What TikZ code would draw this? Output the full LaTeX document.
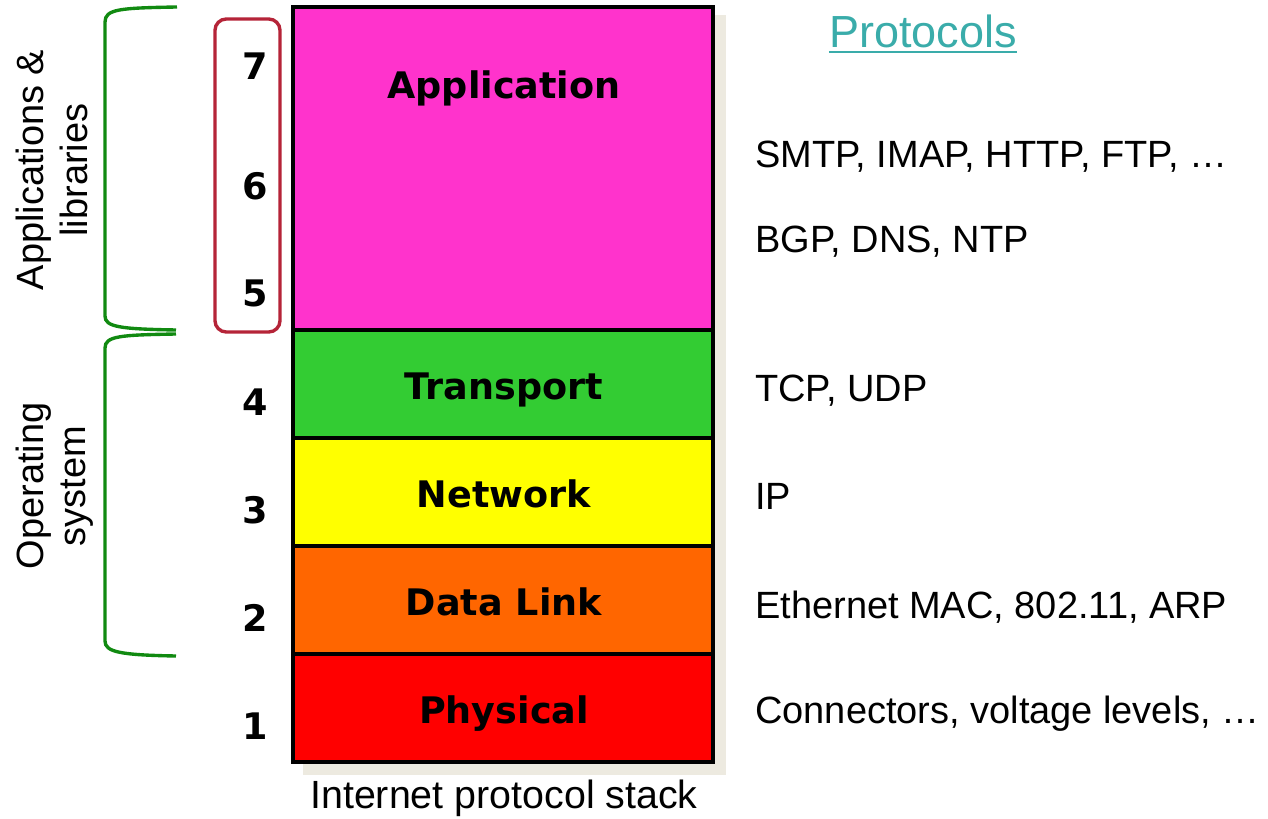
\documentclass[tikz,border=0pt]{standalone}
\usepackage{fontspec}
\setmainfont{Liberation Sans}
\newfontfamily\layerfont{DejaVu Sans}
\definecolor{appcol}{HTML}{FF33CC}
\definecolor{transcol}{HTML}{33CC33}
\definecolor{netcol}{HTML}{FFFF00}
\definecolor{linkcol}{HTML}{FF6600}
\definecolor{physcol}{HTML}{FF0000}
\definecolor{shadowcol}{HTML}{EDEAE0}
\definecolor{bracecol}{HTML}{118A11}
\definecolor{boxcol}{HTML}{B52438}
\definecolor{protocol}{HTML}{3AACAA}

\begin{document}
\begin{tikzpicture}[x=0.025cm,y=-0.025cm]
\tikzstyle{every node}+=[inner sep=0pt]
\tikzstyle{layer}=[draw=black, line width=2.8pt]
\tikzstyle{layername}=[anchor=base, font=\layerfont\bfseries\fontsize{26}{30}\selectfont]
\tikzstyle{num}=[anchor=base, font=\layerfont\bfseries\fontsize{26}{30}\selectfont]
\tikzstyle{proto}=[anchor=base west, font=\fontsize{27}{32}\selectfont]
\tikzstyle{side}=[anchor=base, rotate=90, font=\fontsize{27}{32}\selectfont]
\tikzstyle{brace}=[draw=bracecol, line width=2.4pt]
\useasboundingbox (0,0) rectangle (1268,819);
% shadow behind the stack
\fill [shadowcol] (303,15) rectangle (726,775);
% the five layers
\draw [layer, fill=appcol] (293,7) rectangle (713,330);
\draw [layer, fill=transcol] (293,330) rectangle (713,438);
\draw [layer, fill=netcol] (293,438) rectangle (713,546);
\draw [layer, fill=linkcol] (293,546) rectangle (713,654);
\draw [layer, fill=physcol] (293,654) rectangle (713,762);
\node [layername] (app) at (504,99) {Application};
\node [layername] (trans) at (504,399) {Transport};
\node [layername] (net) at (504,507) {Network};
\node [layername] (link) at (504,615) {Data Link};
\node [layername] (phys) at (504,723) {Physical};
\node [anchor=base, font=\fontsize{28}{33}\selectfont] (stack) at (504,808) {Internet protocol stack};
% layer numbers
\draw [boxcol, line width=2.4pt, rounded corners=8pt] (215,19) rectangle (280,332);
\node [num] (n7) at (255,80) {7};
\node [num] (n6) at (255,200) {6};
\node [num] (n5) at (255,307) {5};
\node [num] (n4) at (255,415) {4};
\node [num] (n3) at (255,523) {3};
\node [num] (n2) at (255,631) {2};
\node [num] (n1) at (255,739) {1};
% braces on the left
\draw [brace] (177,7) .. controls (120,8) and (105,9) .. (105,22) -- (105,316) .. controls (105,327) and (120,329) .. (176,330);
\draw [brace] (176,334) .. controls (120,335) and (105,336) .. (105,348) -- (105,641) .. controls (105,652) and (120,655) .. (176,656);
\node [side] (apps) at (43,170) {Applications \&};
\node [side] (libs) at (87,170) {libraries};
\node [side] (os1) at (43,486) {Operating};
\node [side] (os2) at (85,486) {system};
% protocols column
\node [anchor=base, text=protocol, font=\fontsize{32}{38}\selectfont] (protos) at (923,48) {Protocols};
\draw [protocol, line width=1.5pt] ([yshift=-3pt]protos.base west) -- ([yshift=-3pt]protos.base east);
\node [proto] (p7) at (755,168) {SMTP, IMAP, HTTP, FTP, …};
\node [proto] (p5) at (755,253) {BGP, DNS, NTP};
\node [proto] (p4) at (755,402) {TCP, UDP};
\node [proto] (p3) at (755,509) {IP};
\node [proto] (p2) at (755,618) {Ethernet MAC, 802.11, ARP};
\node [proto] (p1) at (755,723) {Connectors, voltage levels, …};
\end{tikzpicture}
\end{document}
